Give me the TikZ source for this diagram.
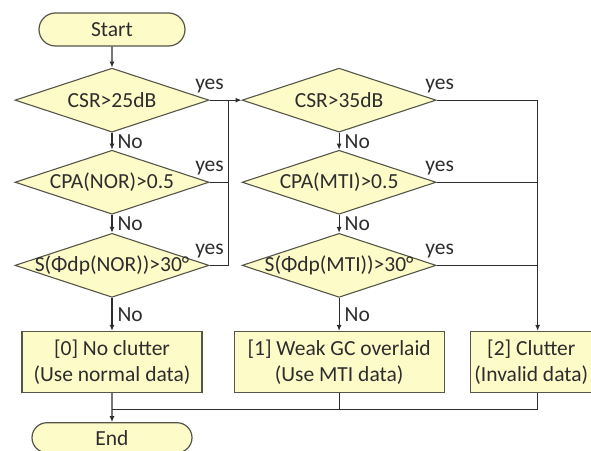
\documentclass[tikz,border=0pt]{standalone}
\usepackage{fontspec}
\setmainfont{Carlito}
\usepackage{xcolor}
\usepackage{tikz}
\usetikzlibrary{arrows.meta, positioning, shapes.geometric, shapes.misc, calc}
\definecolor{boxfill}{RGB}{253,251,200}
\definecolor{boxline}{RGB}{85,85,72}
\definecolor{ink}{RGB}{45,45,45}
\tikzset{%
	term/.style={draw=boxline, rounded rectangle, fill=boxfill, line width=1.2pt,%
		minimum height=33pt, inner sep=0pt},
	cond/.style={draw=boxline, diamond, fill=boxfill, line width=1.1pt,%
		minimum width=194pt, minimum height=64pt, inner sep=0pt},
	res/.style={draw=boxline, rectangle, fill=boxfill, line width=1.2pt,%
		minimum height=61pt, align=center, inner xsep=2pt, inner ysep=0pt},
	flow/.style={draw=ink, line width=1.2pt},
	lbl/.style={inner sep=1pt, text=ink}
}
\newcommand{\dtext}[1]{\makebox[0pt]{#1}}

\begin{document}
\begin{tikzpicture}[font=\fontsize{21.5}{26.5}\selectfont, text=ink, >={Latex[length=6pt,width=5pt]}]
	\useasboundingbox (0,0) rectangle (591pt,-450pt);
	\node[term, minimum width=146pt] (start) at (112pt,-29.5pt) {Start};
	\node[cond, below=21pt of start] (c1) {\dtext{CSR>25dB}};
	\node[cond, below=17pt of c1] (c2) {\dtext{CPA(NOR)>0.5}};
	\node[cond, below=18pt of c2] (c3) {\dtext{S(Φdp(NOR))>30°}};
	\node[cond, right=32pt of c1] (d1) {\dtext{CSR>35dB}};
	\node[cond, below=17pt of d1] (d2) {\dtext{CPA(MTI)>0.5}};
	\node[cond, below=18pt of d2] (d3) {\dtext{S(Φdp(MTI))>30°}};
	\node[res, minimum width=180pt, below=33pt of c3] (r0) {[0] No clutter\\(Use normal data)};
	\node[res, minimum width=210pt, below=33pt of d3] (r1) {[1] Weak GC overlaid\\(Use MTI data)};
	\node[res, minimum width=122pt, right=25pt of r1] (r2) {[2] Clutter\\(Invalid data)};
	\node[term, minimum width=160pt, minimum height=30pt, below=29pt of r0] (end) {End};

	\coordinate (lj) at ($(c1.east)!0.6!(d1.west)$);
	\coordinate (rj) at ($(d1.east)+(101pt,0)$);
	\coordinate (bj) at ($(r0.south)+(0,-16pt)$);

	\draw[flow, ->] (start) to (c1);
	\draw[flow, ->] (c1) to node[lbl, right=4pt] (n1) {No} (c2);
	\draw[flow, ->] (c2) to node[lbl, right=4pt] (n2) {No} (c3);
	\draw[flow, ->] (c3) to node[lbl, right=4pt] (n3) {No} (r0);
	\draw[flow, ->] (d1) to node[lbl, right=4pt] (m1) {No} (d2);
	\draw[flow, ->] (d2) to node[lbl, right=4pt] (m2) {No} (d3);
	\draw[flow, ->] (d3) to node[lbl, right=4pt] (m3) {No} (r1);

	\node[lbl, above=6pt of c1.east] (y1) {yes};
	\node[lbl, above=6pt of c2.east] (y2) {yes};
	\node[lbl, above=6pt of c3.east] (y3) {yes};
	\node[lbl, above=6pt of d1.east, xshift=3pt] (z1) {yes};
	\node[lbl, above=6pt of d2.east, xshift=3pt] (z2) {yes};
	\node[lbl, above=6pt of d3.east, xshift=3pt] (z3) {yes};

	\draw[flow, ->] (c1.east) to (d1.west);
	\draw[flow] (c2.east) to (c2.east -| lj);
	\draw[flow] (c3.east) -| (lj);
	\draw[flow, ->] (d1.east) -| (rj |- r2.north);
	\draw[flow] (d2.east) to (d2.east -| rj);
	\draw[flow] (d3.east) to (d3.east -| rj);

	\draw[flow] (rj |- r2.south) |- (bj);
	\draw[flow] (r1.south) to (r1.south |- bj);
	\draw[flow, ->] (r0) to (end);
\end{tikzpicture}
\end{document}
